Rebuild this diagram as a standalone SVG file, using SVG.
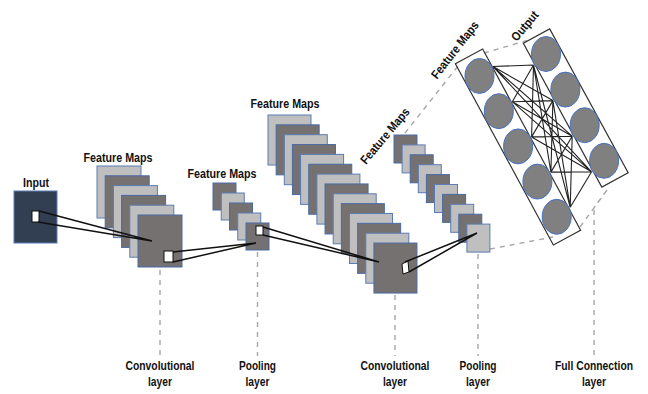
<svg xmlns="http://www.w3.org/2000/svg" width="648" height="394" viewBox="0 0 648 394">
<style>
.t{font-family:"Liberation Sans",Arial,sans-serif;font-weight:bold;font-size:12.3px;fill:#111;text-anchor:middle}
.L{fill:#bfbfbf;stroke:#5b7cb5;stroke-width:1}
.D{fill:#767171;stroke:#4a6aa5;stroke-width:1}
.w{fill:#fff;stroke:#111;stroke-width:1}
.c{stroke:#111;stroke-width:1.5;fill:none}
.n{stroke:#222;stroke-width:1.1}
.d{stroke:#a6a6a6;stroke-width:1.4;stroke-dasharray:5 5;fill:none}
.o{fill:#808080;stroke:#4472c4;stroke-width:1}
.b{fill:none;stroke:#333;stroke-width:1.2}
</style>
<rect width="648" height="394" fill="#fff"/>
<g id="guides">
<path class="d" d="M160 270V356M257.5 252V356M395 295V356M478 254V356M594 210V356"/>
<path class="d" d="M405 133L458 66M484 53L529 40M490 249L553 237M580 227L607 190M607 190L594 208"/>
</g>
<g id="input">
<rect x="14" y="191" width="43" height="52" fill="#323e52" stroke="#5b7cb5" stroke-width="1"/>
<rect class="w" x="32" y="211" width="7" height="11" stroke="none"/>
<text class="t" x="36" y="187" textLength="26" lengthAdjust="spacingAndGlyphs">Input</text>
</g>
<g id="conv1">
<rect class="L" x="97" y="166" width="44" height="52"/>
<rect class="D" x="105.2" y="175.8" width="44" height="52"/>
<rect class="L" x="113.4" y="185.6" width="44" height="52"/>
<rect class="D" x="121.6" y="195.4" width="44" height="52"/>
<rect class="L" x="129.8" y="205.2" width="44" height="52"/>
<rect class="D" x="138" y="215" width="44" height="52"/>
<rect class="w" x="164" y="251" width="9" height="11"/>
<text class="t" x="118" y="162" textLength="69" lengthAdjust="spacingAndGlyphs">Feature Maps</text>
</g>
<g id="pool1">
<rect class="D" x="213" y="183" width="23" height="27"/>
<rect class="L" x="221.25" y="193" width="23" height="27"/>
<rect class="D" x="229.5" y="203" width="23" height="27"/>
<rect class="L" x="237.75" y="213" width="23" height="27"/>
<rect class="D" x="246" y="223" width="23" height="27"/>
<rect class="w" x="256" y="226" width="7" height="9"/>
<text class="t" x="222" y="178" textLength="69" lengthAdjust="spacingAndGlyphs">Feature Maps</text>
</g>
<g id="conv2">
<rect class="L" x="268" y="115" width="43" height="50"/>
<rect class="D" x="276.15" y="124.85" width="43" height="50"/>
<rect class="L" x="284.3" y="134.7" width="43" height="50"/>
<rect class="D" x="292.45" y="144.55" width="43" height="50"/>
<rect class="L" x="300.6" y="154.4" width="43" height="50"/>
<rect class="D" x="308.75" y="164.25" width="43" height="50"/>
<rect class="L" x="316.9" y="174.1" width="43" height="50"/>
<rect class="D" x="325.05" y="183.95" width="43" height="50"/>
<rect class="L" x="333.2" y="193.8" width="43" height="50"/>
<rect class="D" x="341.35" y="203.65" width="43" height="50"/>
<rect class="L" x="349.5" y="213.5" width="43" height="50"/>
<rect class="D" x="357.65" y="223.35" width="43" height="50"/>
<rect class="L" x="365.8" y="233.2" width="43" height="50"/>
<rect class="D" x="373.95" y="243.05" width="43" height="50"/>
<polygon class="w" points="402,264 408,261 409,272 403,274"/>
<text class="t" x="285" y="108" textLength="69" lengthAdjust="spacingAndGlyphs">Feature Maps</text>
</g>
<g id="pool2">
<rect class="D" x="394" y="135" width="23" height="28"/>
<rect class="L" x="402.1" y="144.9" width="23" height="28"/>
<rect class="D" x="410.2" y="154.8" width="23" height="28"/>
<rect class="L" x="418.3" y="164.7" width="23" height="28"/>
<rect class="D" x="426.4" y="174.6" width="23" height="28"/>
<rect class="L" x="434.5" y="184.5" width="23" height="28"/>
<rect class="D" x="442.6" y="194.4" width="23" height="28"/>
<rect class="L" x="450.7" y="204.3" width="23" height="28"/>
<rect class="D" x="458.8" y="214.2" width="23" height="28"/>
<rect class="L" x="466.9" y="224.1" width="23" height="28"/>
<text class="t" transform="translate(385 136) rotate(-50)" y="4" textLength="69" lengthAdjust="spacingAndGlyphs">Feature Maps</text>
</g>
<g id="connectors">
<path class="c" d="M39 211L152 241M38 222L152 241"/>
<path class="c" d="M173 252L256 243M173 262L256 243"/>
<path class="c" d="M263 227L379 262M263 235L379 262"/>
<path class="c" d="M405 262L477 233M409 272L477 233"/>
</g>
<g id="fc-edges">
<path class="n" d="M493 66.5L533.5 65M493 66.5L552.9 100.6M493 66.5L572.2 136.2M493 66.5L591.6 171.8
M512.3 101.7L533.5 65M512.3 101.7L552.9 100.6M512.3 101.7L572.2 136.2M512.3 101.7L591.6 171.8
M531.6 136.9L533.5 65M531.6 136.9L552.9 100.6M531.6 136.9L572.2 136.2M531.6 136.9L591.6 171.8
M550.9 172.1L533.5 65M550.9 172.1L552.9 100.6M550.9 172.1L572.2 136.2M550.9 172.1L591.6 171.8
M570.2 207.3L533.5 65M570.2 207.3L552.9 100.6M570.2 207.3L572.2 136.2M570.2 207.3L591.6 171.8"/>
</g>
<g id="fc-hidden">
<rect class="b" transform="translate(518 147) rotate(-28.4)" x="-15.5" y="-103" width="31" height="206"/>
<ellipse class="o" cx="479.5" cy="76" rx="14.5" ry="17.5"/>
<ellipse class="o" cx="498.8" cy="111.2" rx="14.5" ry="17.5"/>
<ellipse class="o" cx="518.1" cy="146.4" rx="14.5" ry="17.5"/>
<ellipse class="o" cx="537.4" cy="181.6" rx="14.5" ry="17.5"/>
<ellipse class="o" cx="556.7" cy="216.8" rx="14.5" ry="17.5"/>
<text class="t" transform="translate(455 50) rotate(-52)" y="4" textLength="69" lengthAdjust="spacingAndGlyphs">Feature Maps</text>
</g>
<g id="fc-output">
<rect class="b" transform="translate(575.75 108) rotate(-28.6)" x="-15" y="-82" width="30" height="164"/>
<ellipse class="o" cx="546" cy="54" rx="14.5" ry="17.5"/>
<ellipse class="o" cx="565.4" cy="89.6" rx="14.5" ry="17.5"/>
<ellipse class="o" cx="584.7" cy="125.2" rx="14.5" ry="17.5"/>
<ellipse class="o" cx="604.1" cy="160.8" rx="14.5" ry="17.5"/>
<text class="t" transform="translate(525 26) rotate(-50)" y="4" textLength="35" lengthAdjust="spacingAndGlyphs">Output</text>
</g>
<g id="labels">
<text class="t" x="160" y="370" textLength="69" lengthAdjust="spacingAndGlyphs">Convolutional</text><text class="t" x="160" y="386" textLength="24" lengthAdjust="spacingAndGlyphs">layer</text>
<text class="t" x="257.5" y="370" textLength="37" lengthAdjust="spacingAndGlyphs">Pooling</text><text class="t" x="257.5" y="386" textLength="24" lengthAdjust="spacingAndGlyphs">layer</text>
<text class="t" x="395" y="370" textLength="69" lengthAdjust="spacingAndGlyphs">Convolutional</text><text class="t" x="395" y="386" textLength="24" lengthAdjust="spacingAndGlyphs">layer</text>
<text class="t" x="478" y="370" textLength="37" lengthAdjust="spacingAndGlyphs">Pooling</text><text class="t" x="478" y="386" textLength="24" lengthAdjust="spacingAndGlyphs">layer</text>
<text class="t" x="594" y="370" textLength="78" lengthAdjust="spacingAndGlyphs">Full Connection</text><text class="t" x="594" y="386" textLength="24" lengthAdjust="spacingAndGlyphs">layer</text>
</g>
</svg>
